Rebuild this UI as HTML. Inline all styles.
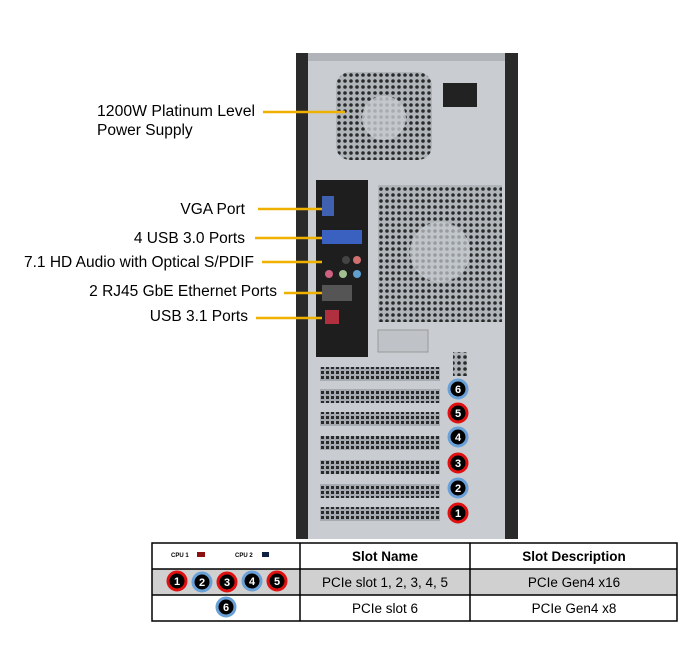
<!DOCTYPE html><html><head><style>body{margin:0;background:#fff}svg{display:block}</style></head><body>
<svg width="688" height="670" xmlns="http://www.w3.org/2000/svg" font-family="Liberation Sans, sans-serif">
<defs>
<pattern id="holes" width="6" height="6" patternUnits="userSpaceOnUse"><rect width="6" height="6" fill="#b0b5ba"/><circle cx="3" cy="3" r="1.8" fill="#2a2a2a"/></pattern>
<pattern id="slot" width="5" height="5" patternUnits="userSpaceOnUse"><rect width="5" height="5" fill="#a5abb0"/><rect x="1" y="1" width="3" height="3" fill="#2a2a2a"/></pattern>
</defs>
<rect x="296" y="53" width="222" height="486" fill="#c9cdd1"/>
<rect x="296" y="53" width="12" height="486" fill="#2a2a2a"/>
<rect x="505" y="53" width="13" height="486" fill="#2a2a2a"/>
<rect x="308" y="53" width="197" height="8" fill="#b0b4b8"/>
<rect x="336" y="72" width="96" height="88" rx="14" fill="url(#holes)"/>
<circle cx="384" cy="118" r="22" fill="#c9cdd1" opacity="0.8"/>
<rect x="443" y="83" width="34" height="24" fill="#222"/>
<rect x="378" y="185" width="124" height="137" fill="url(#holes)"/>
<circle cx="440" cy="252" r="30" fill="#c9cdd1" opacity="0.7"/>
<rect x="316" y="180" width="52" height="177" fill="#1e1e1e"/>
<rect x="322" y="196" width="12" height="20" fill="#4060b0"/>
<rect x="322" y="230" width="40" height="14" fill="#3a60c0"/>
<circle cx="346" cy="260" r="4" fill="#444"/><circle cx="357" cy="260" r="4" fill="#d07070"/>
<circle cx="329" cy="274" r="4" fill="#d06080"/><circle cx="343" cy="274" r="4" fill="#a0c090"/><circle cx="357" cy="274" r="4" fill="#60a0d0"/>
<rect x="322" y="285" width="30" height="16" fill="#555"/>
<rect x="325" y="310" width="14" height="14" fill="#b03040"/>
<rect x="378" y="330" width="50" height="22" fill="#bfc3c7" stroke="#999"/>
<g fill="url(#slot)">
<rect x="320" y="367" width="120" height="14"/><rect x="320" y="389" width="120" height="14"/><rect x="320" y="412" width="120" height="14"/><rect x="320" y="436" width="120" height="14"/><rect x="320" y="460" width="120" height="14"/><rect x="320" y="484" width="120" height="14"/><rect x="320" y="507" width="120" height="14"/>
</g>
<rect x="453" y="352" width="14" height="24" fill="url(#holes)"/>
<g font-size="11" font-weight="bold" fill="#fff" text-anchor="middle">
<circle cx="458" cy="389" r="9" fill="#000" stroke="#6aa0d8" stroke-width="3"/><text x="458" y="393">6</text>
<circle cx="458" cy="413" r="9" fill="#000" stroke="#e01010" stroke-width="3"/><text x="458" y="417">5</text>
<circle cx="458" cy="437" r="9" fill="#000" stroke="#6aa0d8" stroke-width="3"/><text x="458" y="441">4</text>
<circle cx="458" cy="463" r="9" fill="#000" stroke="#e01010" stroke-width="3"/><text x="458" y="467">3</text>
<circle cx="458" cy="488" r="9" fill="#000" stroke="#6aa0d8" stroke-width="3"/><text x="458" y="492">2</text>
<circle cx="458" cy="513" r="9" fill="#000" stroke="#e01010" stroke-width="3"/><text x="458" y="517">1</text>
</g>
<g stroke="#f0b000" stroke-width="2.5">
<line x1="263" y1="112" x2="345" y2="112"/><line x1="258" y1="209" x2="322" y2="209"/><line x1="255" y1="238" x2="322" y2="238"/><line x1="262" y1="262" x2="322" y2="262"/><line x1="284" y1="293" x2="322" y2="293"/><line x1="256" y1="318" x2="322" y2="318"/>
</g>
<g font-size="15.5" fill="#000">
<text x="97" y="116" textLength="158" lengthAdjust="spacingAndGlyphs">1200W Platinum Level</text><text x="97" y="135">Power Supply</text>
<text x="245" y="214" text-anchor="end">VGA Port</text>
<text x="245" y="243" text-anchor="end">4 USB 3.0 Ports</text>
<text x="254" y="267" text-anchor="end">7.1 HD Audio with Optical S/PDIF</text>
<text x="277" y="296" text-anchor="end">2 RJ45 GbE Ethernet Ports</text>
<text x="248" y="321" text-anchor="end">USB 3.1 Ports</text>
</g>
<rect x="152" y="569" width="525" height="26" fill="#d0d0d0"/>
<g stroke="#000" stroke-width="1.5" fill="none">
<rect x="152" y="543" width="525" height="78"/>
<line x1="152" y1="569" x2="677" y2="569"/><line x1="152" y1="595" x2="677" y2="595"/>
<line x1="300" y1="543" x2="300" y2="621"/><line x1="470" y1="543" x2="470" y2="621"/>
</g>
<text x="171" y="557" font-size="6" font-weight="bold">CPU 1</text><rect x="197" y="552" width="8" height="5" fill="#8b1010"/>
<text x="235" y="557" font-size="6" font-weight="bold">CPU 2</text><rect x="262" y="552" width="7" height="5" fill="#102040"/>
<g font-size="13.5" text-anchor="middle">
<text x="385" y="561" font-weight="bold">Slot Name</text><text x="574" y="561" font-weight="bold">Slot Description</text>
<text x="385" y="587">PCIe slot 1, 2, 3, 4, 5</text><text x="574" y="587">PCIe Gen4 x16</text>
<text x="385" y="613">PCIe slot 6</text><text x="574" y="613">PCIe Gen4 x8</text>
</g>
<g font-size="11" font-weight="bold" fill="#fff" text-anchor="middle">
<circle cx="177" cy="581" r="9" fill="#000" stroke="#e01010" stroke-width="3"/><text x="177" y="585">1</text>
<circle cx="202" cy="582" r="9" fill="#000" stroke="#6aa0d8" stroke-width="3"/><text x="202" y="586">2</text>
<circle cx="227" cy="582" r="9" fill="#000" stroke="#e01010" stroke-width="3"/><text x="227" y="586">3</text>
<circle cx="252" cy="581" r="9" fill="#000" stroke="#6aa0d8" stroke-width="3"/><text x="252" y="585">4</text>
<circle cx="277" cy="581" r="9" fill="#000" stroke="#e01010" stroke-width="3"/><text x="277" y="585">5</text>
<circle cx="226" cy="607" r="9" fill="#000" stroke="#6aa0d8" stroke-width="3"/><text x="226" y="611">6</text>
</g>
</svg>
</body></html>
